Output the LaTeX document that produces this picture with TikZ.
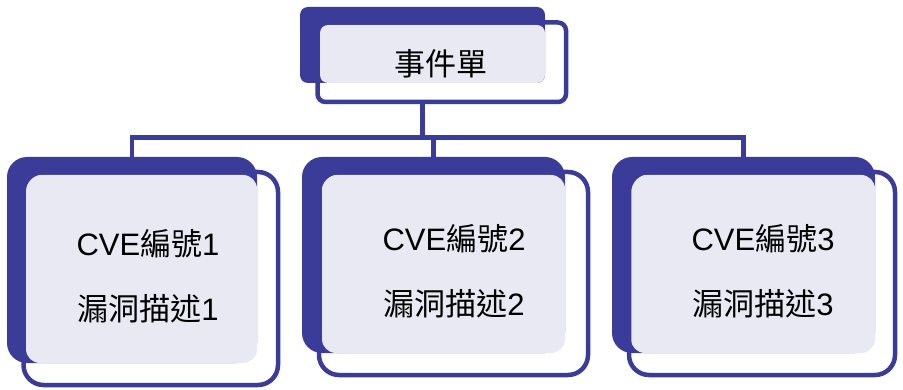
\documentclass[tikz,border=0pt]{standalone}
\usepackage{fontspec}
\setmainfont{Liberation Sans}
\newfontfamily\cjk{Noto Sans CJK TC}
\definecolor{navy}{RGB}{59,59,153}
\definecolor{lavender}{RGB}{233,233,243}
\tikzset{
  backbox/.style={fill=navy, rounded corners=20pt, inner sep=0pt},
  tintbox/.style={fill=lavender, rounded corners=14pt, inner sep=0pt},
  framebox/.style={draw=navy, line width=4.5pt, rounded corners=20pt, inner sep=0pt},
  small/.style={rounded corners=8pt},
  boxtext/.style={anchor=base, inner sep=0pt, font=\fontsize{31}{37}\selectfont},
  link/.style={draw=navy, line width=4.5pt}
}

\begin{document}
\begin{tikzpicture}[x=1pt,y=-1pt]
  \useasboundingbox (0,0) rectangle (903,390);

  \node[backbox, small, minimum width=245pt, minimum height=76pt] (topback) at (422.5,45) {};
  \node[tintbox, small, minimum width=225pt, minimum height=58pt] (toptint) at (432.5,54) {};
  \node[framebox, small, minimum width=248.5pt, minimum height=79.5pt] (topframe) at (441.75,62.25) {};
  \node[boxtext] (toptext) at (441,76) {\cjk 事件單};

  \node[backbox, minimum width=250pt, minimum height=206pt] (back1) at (132,260) {};
  \node[tintbox, minimum width=231pt, minimum height=188pt] (tint1) at (141.5,269) {};
  \node[framebox, minimum width=254.5pt, minimum height=213pt] (frame1) at (150.75,278.5) {};
  \node[boxtext] (id1) at (148,256) {CVE{\cjk 編號}1};
  \node[boxtext] (desc1) at (148,320) {{\cjk 漏洞描述}1};

  \node[backbox, minimum width=263pt, minimum height=196pt] (back2) at (433.5,255) {};
  \node[tintbox, minimum width=243pt, minimum height=178pt] (tint2) at (443.5,264) {};
  \node[framebox, minimum width=269pt, minimum height=203pt] (frame2) at (453.5,273.5) {};
  \node[boxtext] (id2) at (454,251) {CVE{\cjk 編號}2};
  \node[boxtext] (desc2) at (454,316) {{\cjk 漏洞描述}2};

  \node[backbox, minimum width=263pt, minimum height=196pt] (back3) at (743.5,255) {};
  \node[tintbox, minimum width=244pt, minimum height=178pt] (tint3) at (753,264) {};
  \node[framebox, minimum width=266pt, minimum height=203pt] (frame3) at (762,273.5) {};
  \node[boxtext] (id3) at (763,251) {CVE{\cjk 編號}3};
  \node[boxtext] (desc3) at (763,316) {{\cjk 漏洞描述}3};

  \coordinate (bus) at (0,137.5);
  \draw[link] (topback |- topframe.south) -- (topback |- bus);
  \draw[link] (back1.north) -- (back1 |- bus) -- (back3 |- bus) -- (back3.north);
  \draw[link] (back2 |- bus) -- (back2.north);
\end{tikzpicture}
\end{document}
